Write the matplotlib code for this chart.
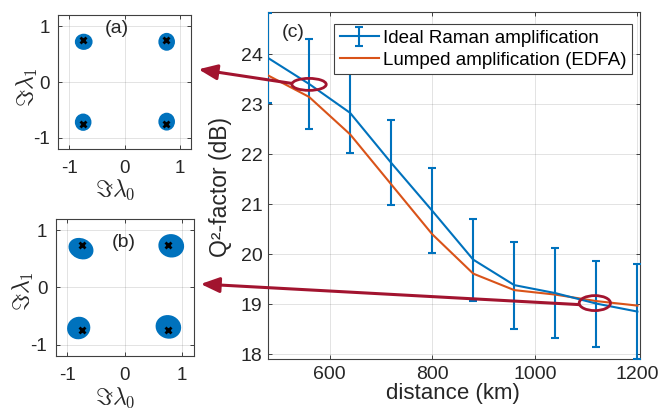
import matplotlib
matplotlib.use("Agg")
import matplotlib.pyplot as plt
from matplotlib.patches import Ellipse

plt.rcParams['font.family'] = ['Liberation Sans', 'DejaVu Sans']
plt.rcParams['mathtext.fontset'] = 'cm'
plt.rcParams['axes.unicode_minus'] = False

# --- data ---
dist = [480, 560, 640, 720, 800, 880, 960, 1040, 1120, 1200]
raman = [23.93, 23.41, 22.83, 21.83, 20.87, 19.89, 19.38, 19.22, 19.01, 18.85]
raman_err = [0.90, 0.90, 0.80, 0.85, 0.85, 0.82, 0.87, 0.90, 0.86, 0.95]
edfa = [23.58, 23.15, 22.40, 21.40, 20.40, 19.61, 19.28, 19.19, 19.06, 18.97]

# constellation symbols (ideal points)
sym_x = [-0.75, 0.75, -0.75, 0.75]
sym_y = [0.75, 0.75, -0.75, -0.75]

# received clouds: centre, width, height, tilt (deg)
a_cx = [-0.74, 0.76, -0.75, 0.76]
a_cy = [0.72, 0.72, -0.72, -0.71]
a_w = [0.29, 0.27, 0.27, 0.27]
a_h = [0.26, 0.29, 0.28, 0.29]
a_ang = [0, 0, 0, 0]

b_cx = [-0.76, 0.81, -0.80, 0.76]
b_cy = [0.68, 0.73, -0.71, -0.69]
b_w = [0.42, 0.42, 0.36, 0.42]
b_h = [0.33, 0.38, 0.38, 0.38]
b_ang = [-25, -10, -60, -20]

blue = '#0072BD'
orange = '#D95319'
red = '#A2142F'
dark = '#262626'

fig = plt.figure(figsize=(6.63, 4.09), dpi=100)
ax = fig.add_axes([0.4042, 0.1222, 0.5611, 0.8485])
axa = fig.add_axes([0.0879, 0.6357, 0.2002, 0.3276])
axb = fig.add_axes([0.0840, 0.1296, 0.2081, 0.3350])


def style(a, fs):
    for s in a.spines.values():
        s.set_color('#404040')
        s.set_linewidth(0.8)
    a.tick_params(direction='in', length=3, width=0.6, colors=dark,
                  labelsize=fs, top=True, right=True)
    a.grid(True, color=dark, alpha=0.15, lw=0.6)
    a.set_axisbelow(True)


# --- constellations ---
for a, cx, cy, w, h, ang, lab, lpos in [
        (axa, a_cx, a_cy, a_w, a_h, a_ang, '(a)', (-0.14, 0.95)),
        (axb, b_cx, b_cy, b_w, b_h, b_ang, '(b)', (-0.02, 0.79))]:
    style(a, 13.5)
    for i in range(len(cx)):
        a.add_patch(Ellipse((cx[i], cy[i]), w[i], h[i], angle=ang[i],
                            fc=blue, ec=blue, lw=1.2, zorder=2))
    a.plot(sym_x, sym_y, 'x', color='k', ms=5, mew=2, zorder=3)
    a.set_xlim(-1.2, 1.2)
    a.set_ylim(-1.2, 1.2)
    a.set_xticks([-1, 0, 1])
    a.set_yticks([-1, 0, 1])
    a.tick_params(axis='x', pad=8)
    a.tick_params(axis='y', pad=6)
    a.text(lpos[0], lpos[1], lab, fontsize=14, ha='center', va='center',
           color=dark)
    a.set_xlabel(r'$\Im\lambda_0$', fontsize=17, color=dark)
    a.set_ylabel(r'$\Im\lambda_1$', fontsize=17, color=dark)

axa.xaxis.set_label_coords(0.43, -0.215)
axa.yaxis.set_label_coords(-0.14, 0.46)
axb.xaxis.set_label_coords(0.43, -0.215)
axb.yaxis.set_label_coords(-0.14, 0.47)

# --- Q-factor vs distance ---
style(ax, 14)
h_raman = ax.errorbar(dist, raman, yerr=raman_err, color=blue, lw=1.5,
                      elinewidth=1.5, capsize=3, capthick=1.5, zorder=3)
h_edfa, = ax.plot(dist, edfa, color=orange, lw=1.5, zorder=3)
ax.set_xlim(480, 1205)
ax.set_ylim(17.9, 24.85)
ax.set_xticks([600, 800, 1000, 1200])
ax.set_yticks([18, 19, 20, 21, 22, 23, 24])
ax.tick_params(axis='x', pad=5)
ax.tick_params(axis='y', pad=4)
ax.set_xlabel('distance (km)', fontsize=16, color=dark)
ax.set_ylabel('Q²-factor (dB)', fontsize=16.5, color=dark)
ax.xaxis.set_label_coords(0.4965, -0.07)
ax.yaxis.set_label_coords(-0.097, 0.497)
ax.text(529, 24.43, '(c)', fontsize=14, ha='center', va='center', color=dark)

leg = ax.legend([h_raman, h_edfa],
                ['Ideal Raman amplification', 'Lumped amplification (EDFA)'],
                loc='upper right', bbox_to_anchor=(632 / 663, 1 - 24 / 409),
                bbox_transform=fig.transFigure, fontsize=13.5, fancybox=False,
                framealpha=1, edgecolor='#404040', borderpad=0.3,
                labelspacing=0.25, handlelength=2.1, handletextpad=0.2,
                borderaxespad=0)
leg.get_frame().set_linewidth(0.8)

# --- markers linking (c) to (a)/(b) ---
ax.add_patch(Ellipse((560, 23.40), 67, 0.24, fill=False, ec=red, lw=2,
                     zorder=5, clip_on=False))
ax.add_patch(Ellipse((1117, 19.02), 61, 0.30, fill=False, ec=red, lw=2,
                     zorder=5, clip_on=False))
arrow = dict(arrowstyle='-|>,head_length=0.8,head_width=0.33', color=red,
             lw=2.2, shrinkA=0, shrinkB=0, mutation_scale=14)
ax.annotate('', xy=(198.5 / 663, 1 - 69.3 / 409), xycoords='figure fraction',
            xytext=(526, 23.42), textcoords='data', arrowprops=arrow,
            annotation_clip=False, zorder=6)
ax.annotate('', xy=(200.7 / 663, 1 - 284 / 409), xycoords='figure fraction',
            xytext=(1086, 18.99), textcoords='data', arrowprops=arrow,
            annotation_clip=False, zorder=6)

fig.savefig('out.png', dpi=100)
